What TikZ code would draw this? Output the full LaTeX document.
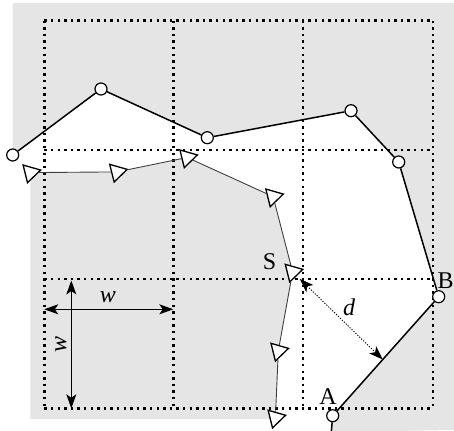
\documentclass[tikz,border=0pt]{standalone}
\usepackage{fontspec}
\setmainfont{Liberation Serif}
\usetikzlibrary{shapes.geometric,arrows.meta,calc}
\begin{document}
\begin{tikzpicture}[x=1pt,y=-1pt,
  griddot/.style={line width=2.4pt, dash pattern=on 2.4pt off 4.2pt, black},
  poly/.style={line width=1.5pt, black},
  tripath/.style={line width=0.9pt, black!75},
  vtx/.style={circle, draw, fill=white, line width=1.2pt, minimum size=12pt, inner sep=0pt},
  tri/.style={regular polygon, regular polygon sides=3, draw, fill=white, line width=1.3pt, minimum size=21pt, inner sep=0pt, rotate=-76},
  lab/.style={font=\fontsize{24}{24}\selectfont, inner sep=0pt},
  tipS/.tip={Stealth[length=14pt,width=10pt,inset=3.5pt]},
  dimarrow/.style={line width=1pt, tipS-tipS},
  distarrow/.style={line width=0.9pt, dash pattern=on 1.2pt off 1.5pt, tipS-tipS},
]
\useasboundingbox (0,0) rectangle (454,430);

% key points
\coordinate (c1) at (12.7,155);
\coordinate (c2) at (101,89);
\coordinate (c3) at (207.3,137.7);
\coordinate (c4) at (351,110.7);
\coordinate (c5) at (398.7,162);
\coordinate (cB) at (438.7,296.7);
\coordinate (cA) at (332.7,415.7);
\coordinate (cEnd) at (331.3,432);

\coordinate (p1) at (30.4,172.6);
\coordinate (p2) at (117,171.9);
\coordinate (p3) at (187.2,157.5);
\coordinate (p4) at (273.1,196.6);
\coordinate (pS) at (292.6,271.9);
\coordinate (p6) at (278.3,350.9);
\coordinate (p7) at (275.4,417.8);

% gray regions
\fill[black!10] (12.7,3) -- (454,3) -- (454,430) -- (cEnd) -- (cA) -- (cB) -- (c5) -- (c4) -- (c3) -- (c2) -- (c1) -- cycle;
\fill[black!10] (p1) -- (p2) -- (p3) -- (p4) -- (pS) -- (p6) -- (p7) -- (275.4,419) -- (30.4,419) -- cycle;

% dotted grid
\foreach \gx in {44.3,173.3,302.7,432.7}
  \draw[griddot] (\gx,20.7) -- (\gx,408.3);
\foreach \gy in {20.7,150,279,408.3}
  \draw[griddot] (44.3,\gy) -- (432.7,\gy);

% polygon with circles
\node[vtx] (v1) at (c1) {};
\node[vtx] (v2) at (c2) {};
\node[vtx] (v3) at (c3) {};
\node[vtx] (v4) at (c4) {};
\node[vtx] (v5) at (c5) {};
\node[vtx] (vB) at (cB) {};
\node[vtx] (vA) at (cA) {};
\draw[poly] (v1) -- (v2) -- (v3) -- (v4) -- (v5) -- (vB) -- (vA) -- (cEnd);

% path with triangles
\node[tri] (t1) at (p1) {};
\node[tri] (t2) at (p2) {};
\node[tri] (t3) at (p3) {};
\node[tri] (t4) at (p4) {};
\node[tri] (tS) at (pS) {};
\node[tri] (t6) at (p6) {};
\node[tri] (t7) at (p7) {};
\draw[tripath] (t1) -- (t2) -- (t3) -- (t4) -- (tS) -- (t6) -- (t7);

% w dimension arrows
\coordinate (wl) at (44.3,309.3);
\coordinate (wr) at (173.3,309.3);
\coordinate (wt) at (71.3,280.5);
\coordinate (wb) at (71.3,408.3);
\draw[dimarrow] (wl) -- (wr);
\draw[dimarrow] (wt) -- (wb);

% distance d
\coordinate (dE) at ($(vA)!0.472!(vB)$);
\coordinate (dS) at ($(pS)!10pt!(dE)$);
\draw[distarrow] (dS) -- (dE);

% labels
\node[lab] (lS) at (269.5,262) {S};
\node[lab] (lA) at (328,397) {A};
\node[lab] (lB) at (445.5,281) {B};
\node[lab] (ld) at (349,307) {\itshape d};
\node[lab] (lw) at (108,297) {\itshape w};
\node[lab, rotate=90] (lw2) at (61,344) {\itshape w};
\end{tikzpicture}
\end{document}
